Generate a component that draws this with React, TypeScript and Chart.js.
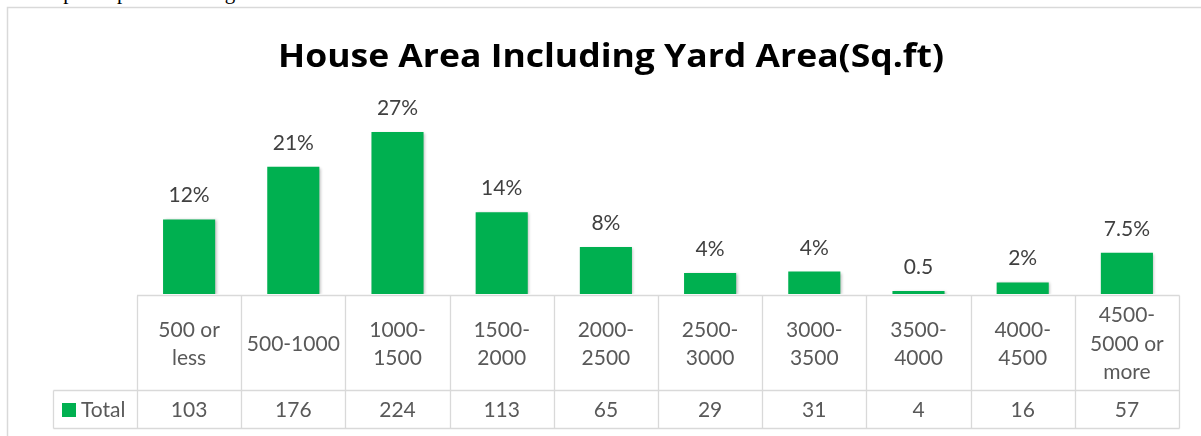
import React, { useEffect, useRef } from "react";
import { Chart, registerables } from "chart.js";
Chart.register(...registerables);

const chartTitle = "House Area Including Yard Area(Sq.ft)";
const categories: string[][] = [
  ["500 or", "less"],
  ["500-1000"],
  ["1000-", "1500"],
  ["1500-", "2000"],
  ["2000-", "2500"],
  ["2500-", "3000"],
  ["3000-", "3500"],
  ["3500-", "4000"],
  ["4000-", "4500"],
  ["4500-", "5000 or", "more"],
];
const totals = [103, 176, 224, 113, 65, 29, 31, 4, 16, 57];
const barLabels = ["12%", "21%", "27%", "14%", "8%", "4%", "4%", "0.5", "2%", "7.5%"];
const seriesName = "Total";
const bodyText = "Such participant. See Figure 3.3 for details.";

const FONT = "Lato, 'Open Sans', sans-serif";
const TITLE_FONT = "'Open Sans', Lato, sans-serif";
const GREEN = "#00B050";
const GRID = "#D9D9D9";

const excelPlugin = {
  id: "excelTable",
  beforeDraw(chart: any) {
    const ctx = chart.ctx;
    ctx.save();
    ctx.strokeStyle = GRID;
    ctx.lineWidth = 1.5;
    ctx.beginPath();
    ctx.moveTo(7.5, 436);
    ctx.lineTo(7.5, 7.5);
    ctx.lineTo(1201, 7.5);
    ctx.stroke();
    ctx.fillStyle = "#000000";
    ctx.font = `bold 33px ${TITLE_FONT}`;
    ctx.textAlign = "center";
    ctx.textBaseline = "alphabetic";
    const w = ctx.measureText(chartTitle).width;
    const sx = Math.min(1.25, Math.max(0.8, 666 / w));
    ctx.translate(611, 67);
    ctx.scale(sx, 1);
    ctx.fillText(chartTitle, 0, 0);
    ctx.restore();
  },
  beforeDatasetsDraw(chart: any) {
    const ctx = chart.ctx;
    ctx.save();
    ctx.shadowColor = "rgba(0,0,0,0.28)";
    ctx.shadowBlur = 3;
    ctx.shadowOffsetX = 1.5;
    ctx.shadowOffsetY = 1;
  },
  afterDatasetsDraw(chart: any) {
    const ctx = chart.ctx;
    ctx.restore();
    ctx.save();
    // bar labels
    const meta = chart.getDatasetMeta(0);
    ctx.fillStyle = "#404040";
    ctx.font = `21px ${FONT}`;
    ctx.textAlign = "center";
    ctx.textBaseline = "alphabetic";
    meta.data.forEach((bar: any, i: number) => {
      ctx.fillText(barLabels[i], bar.x, bar.y - 17);
    });

    // data table
    const xs = chart.scales.x;
    const n = categories.length;
    const colW = (xs.right - xs.left) / n;
    const tTop = 295.5;
    const tMid = 390.5;
    const tBot = 428.5;
    const legLeft = 53.5;
    ctx.strokeStyle = GRID;
    ctx.lineWidth = 1.3;
    ctx.beginPath();
    for (let i = 0; i <= n; i++) {
      const x = Math.round(xs.left + i * colW) + 0.5;
      ctx.moveTo(x, tTop);
      ctx.lineTo(x, tBot);
    }
    ctx.moveTo(xs.left, tTop);
    ctx.lineTo(xs.right + 0.5, tTop);
    ctx.moveTo(legLeft, tMid);
    ctx.lineTo(xs.right + 0.5, tMid);
    ctx.moveTo(legLeft, tBot);
    ctx.lineTo(xs.right + 0.5, tBot);
    ctx.moveTo(legLeft, tMid);
    ctx.lineTo(legLeft, tBot);
    ctx.stroke();

    ctx.fillStyle = "#595959";
    ctx.font = `21px ${FONT}`;
    ctx.textAlign = "center";
    ctx.textBaseline = "middle";
    const lh = 28.5;
    categories.forEach((lines, i) => {
      const cx = xs.getPixelForValue(i);
      const cy = (tTop + tMid) / 2 + 1;
      const start = cy - ((lines.length - 1) * lh) / 2;
      lines.forEach((ln, k) => ctx.fillText(ln, cx, start + k * lh));
      ctx.fillText(String(totals[i]), cx, (tMid + tBot) / 2 + 1);
    });
    // legend key
    ctx.fillStyle = GREEN;
    ctx.fillRect(62, 403, 14, 14);
    ctx.fillStyle = "#595959";
    ctx.textAlign = "left";
    ctx.fillText(seriesName, 81, (tMid + tBot) / 2 + 1);
    ctx.restore();
  },
};

export default function App() {
  const ref = useRef<HTMLCanvasElement | null>(null);
  useEffect(() => {
    if (!ref.current) return;
    const chart = new Chart(ref.current, {
      type: "bar",
      data: {
        labels: categories.map((c) => c.join(" ")),
        datasets: [
          {
            label: seriesName,
            data: totals,
            backgroundColor: GREEN,
            borderWidth: 0,
            barPercentage: 0.5,
            categoryPercentage: 1.0,
          },
        ],
      },
      options: {
        animation: false,
        responsive: false,
        maintainAspectRatio: false,
        layout: { padding: { left: 137, right: 22, top: 77, bottom: 142 } },
        scales: {
          x: { display: false },
          y: { display: false, min: 0, max: 300 },
        },
        plugins: {
          legend: { display: false },
          title: { display: false },
          tooltip: { enabled: false },
        },
      },
      plugins: [excelPlugin],
    });
    return () => chart.destroy();
  }, []);
  return (
    <div style={{ position: "absolute", left: 0, top: 0, width: 1201, height: 436, overflow: "hidden", background: "#fff" }}>
      <div
        style={{
          position: "absolute",
          left: 12,
          top: -18,
          fontFamily: "'Liberation Serif', 'Times New Roman', serif",
          fontSize: 21,
          lineHeight: "21px",
          whiteSpace: "nowrap",
          wordSpacing: 4,
          color: "#000",
        }}
      >
        {bodyText}
      </div>
      <canvas ref={ref} width={1201} height={436} style={{ position: "absolute", left: 0, top: 0 }} />
    </div>
  );
}
